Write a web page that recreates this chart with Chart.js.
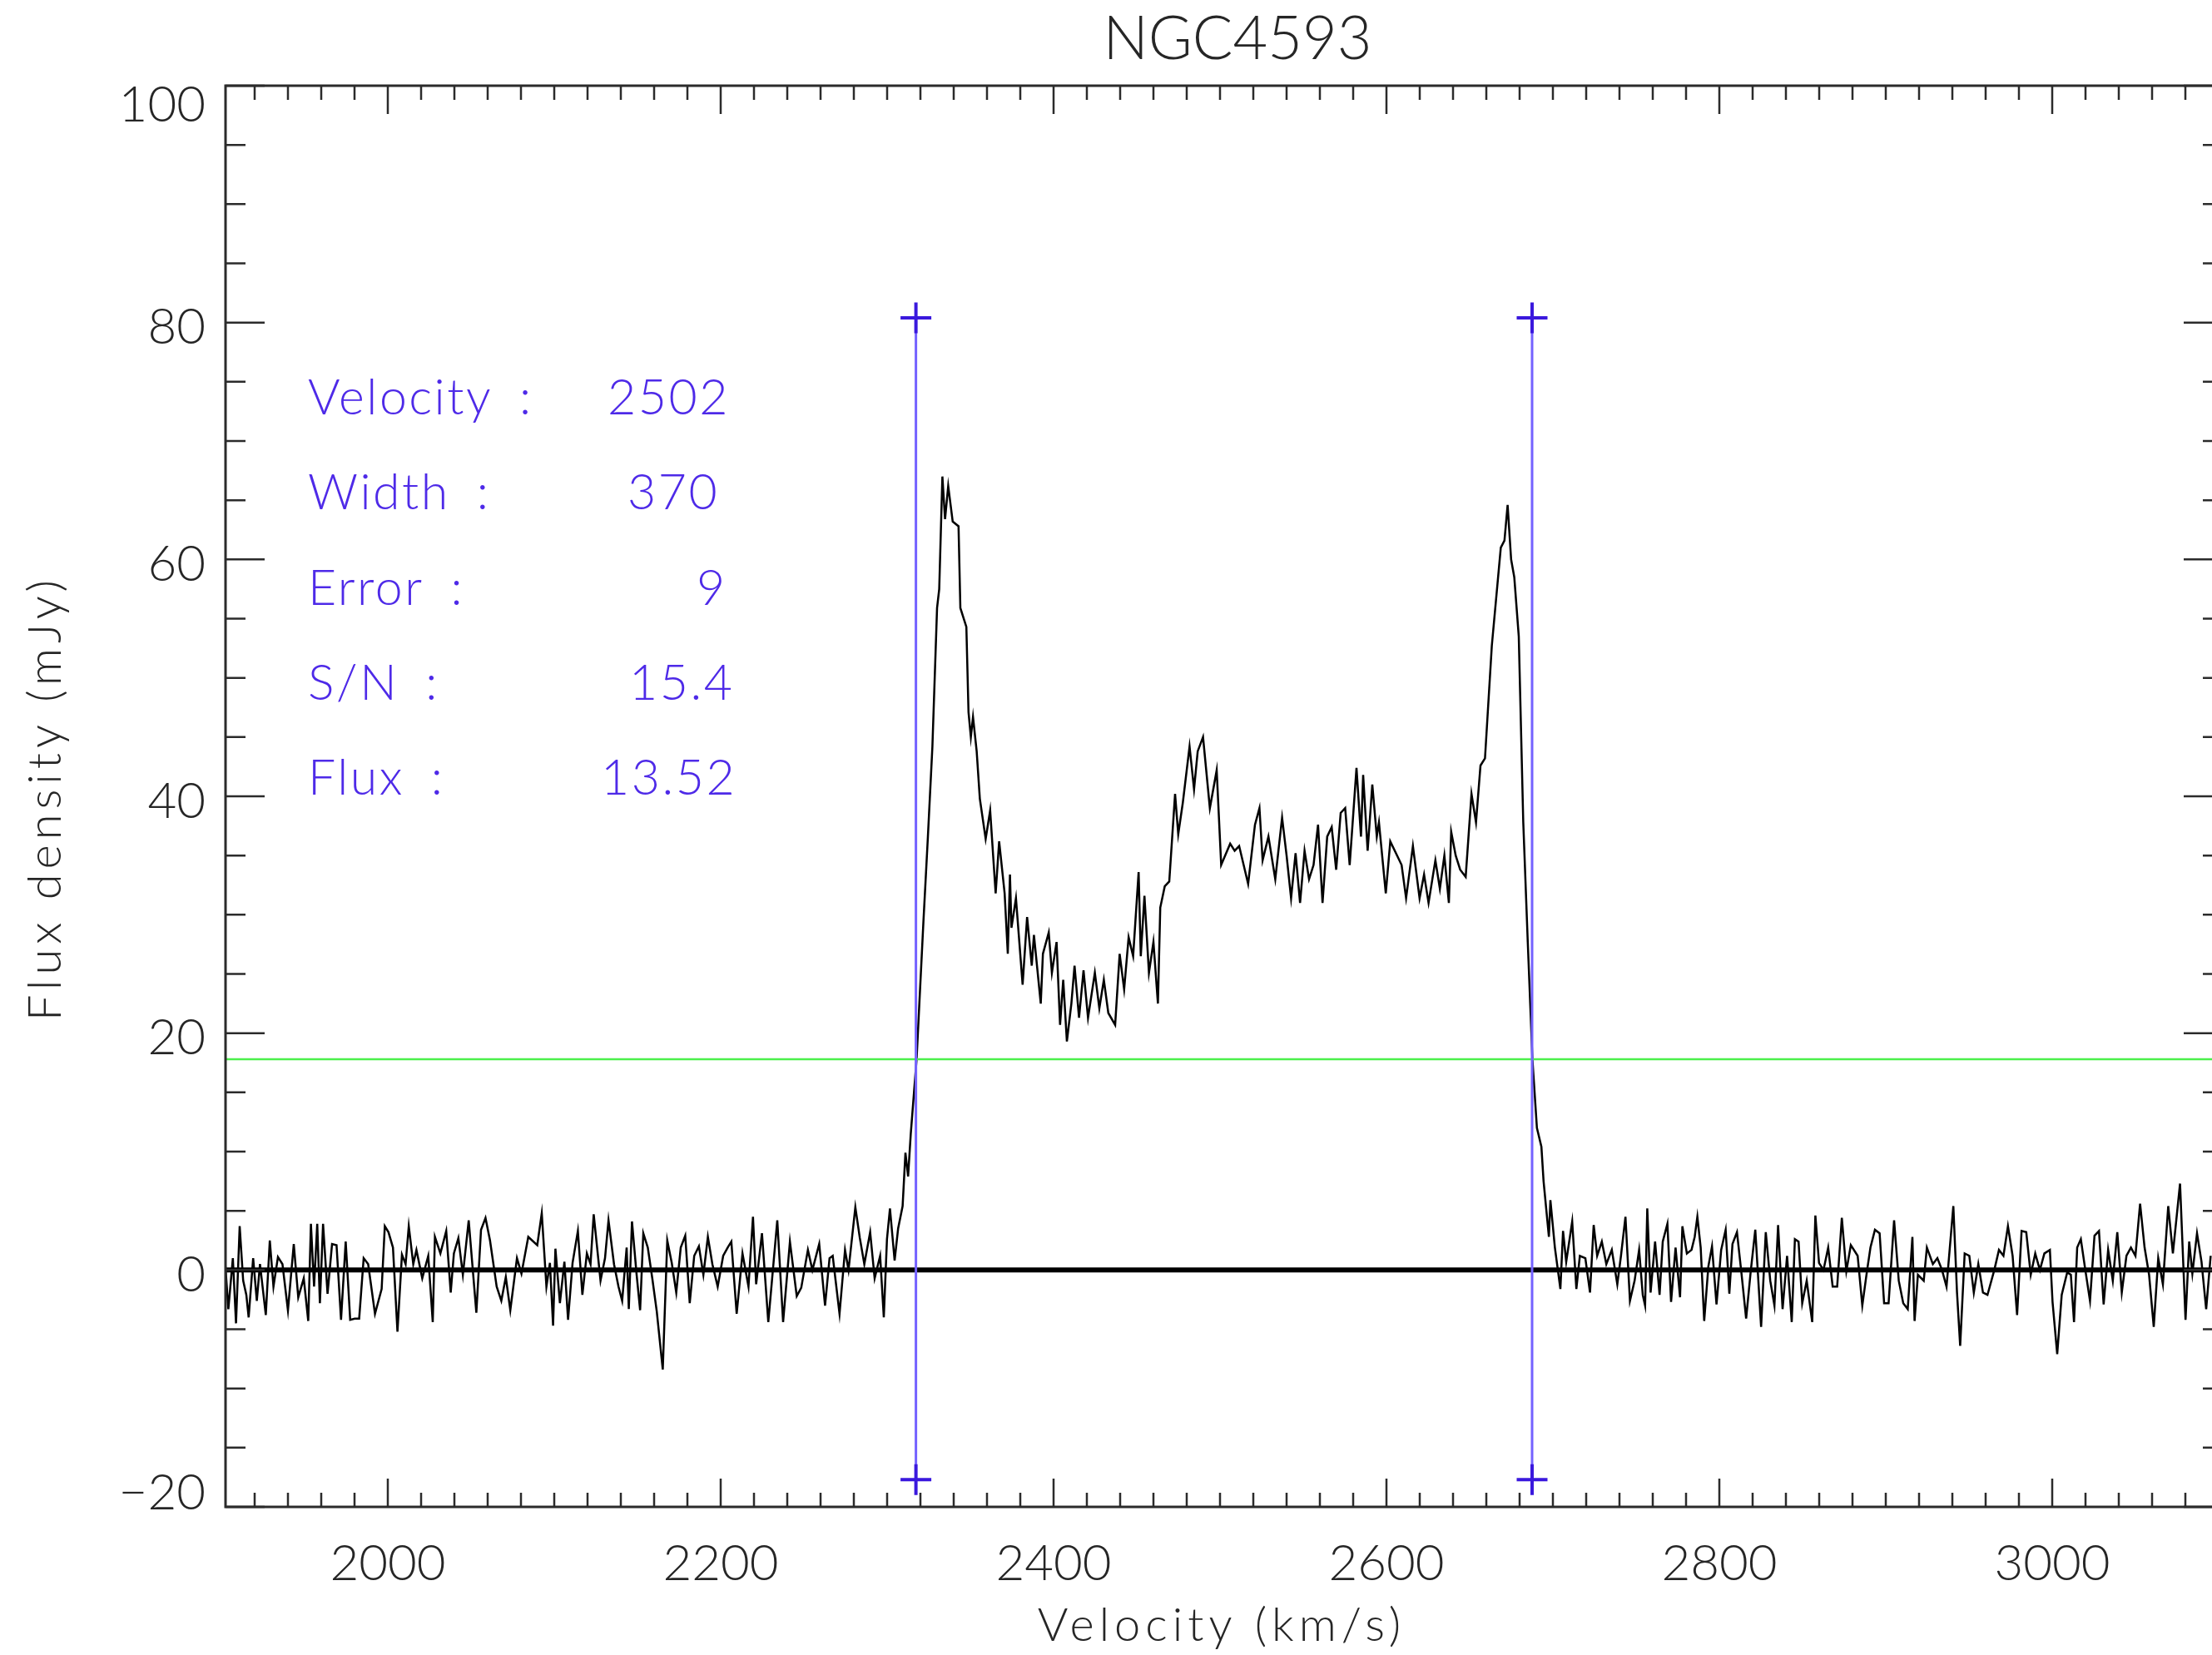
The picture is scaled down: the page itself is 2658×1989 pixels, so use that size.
<!DOCTYPE html>
<html>
<head>
<meta charset="utf-8">
<title>NGC4593</title>
<script src="https://cdn.jsdelivr.net/npm/chart.js@4.4.1/dist/chart.umd.min.js"></script>
<style>
  html, body { margin: 0; padding: 0; background: #fff; overflow: hidden; }
</style>
</head>
<body>
<canvas id="spectrum" width="2700" height="1989"></canvas>
<script>
// HI spectrum (km/s, mJy)
const velocity = [
  1902.0, 1904.2, 1906.9, 1908.8, 1911.0, 1913.1, 1915.0, 1916.4, 1919.1, 1921.3,
  1923.2, 1926.7, 1929.1, 1931.3, 1934.0, 1936.7, 1940.0, 1943.5, 1946.2, 1949.5,
  1952.2, 1953.8, 1955.7, 1957.6, 1959.2, 1961.1, 1963.8, 1966.5, 1969.2, 1971.9,
  1974.7, 1977.4, 1980.1, 1982.8, 1985.5, 1988.2, 1992.3, 1996.3, 1998.2, 2000.4,
  2003.1, 2005.8, 2008.5, 2010.7, 2012.6, 2015.3, 2017.2, 2020.7, 2024.3, 2027.0,
  2028.3, 2031.6, 2035.1, 2037.8, 2039.7, 2042.4, 2045.1, 2048.6, 2053.2, 2056.0,
  2058.7, 2061.4, 2065.4, 2068.2, 2070.9, 2073.6, 2077.6, 2080.3, 2084.4, 2089.8,
  2092.5, 2095.3, 2097.4, 2099.3, 2100.7, 2103.4, 2106.1, 2108.3, 2111.0, 2114.2,
  2116.9, 2119.6, 2121.8, 2123.7, 2127.8, 2130.5, 2132.6, 2135.9, 2138.6, 2140.8,
  2143.5, 2144.8, 2146.7, 2149.5, 2151.6, 2153.5, 2156.2, 2158.9, 2161.6, 2165.2,
  2167.9, 2170.6, 2173.3, 2176.0, 2178.7, 2181.4, 2184.1, 2186.9, 2189.6, 2192.3,
  2195.0, 2198.2, 2201.5, 2204.2, 2206.4, 2209.6, 2213.1, 2216.7, 2219.4, 2221.3,
  2224.8, 2228.6, 2230.8, 2234.0, 2237.5, 2241.6, 2245.7, 2248.4, 2252.4, 2255.1,
  2259.2, 2262.7, 2265.4, 2267.3, 2271.4, 2274.7, 2276.8, 2280.9, 2283.6, 2286.3,
  2289.8, 2292.5, 2295.8, 2298.0, 2299.9, 2301.7, 2304.5, 2306.6, 2309.3, 2311.0,
  2312.6, 2314.2, 2317.7, 2321.8, 2324.5, 2327.2, 2330.0, 2331.3, 2333.2, 2334.8,
  2336.7, 2339.4, 2342.9, 2344.0, 2347.6, 2348.9, 2350.3, 2351.6, 2353.8, 2355.7,
  2359.2, 2361.9, 2365.2, 2367.3, 2370.6, 2372.5, 2373.8, 2374.7, 2377.4, 2381.4,
  2384.1, 2386.9, 2388.2, 2392.3, 2393.6, 2397.1, 2399.0, 2401.8, 2403.9, 2405.8,
  2408.0, 2410.7, 2412.6, 2415.3, 2418.0, 2420.7, 2424.8, 2427.5, 2430.2, 2432.9,
  2437.0, 2439.7, 2442.4, 2445.1, 2447.8, 2451.1, 2452.4, 2454.6, 2457.3, 2460.0,
  2462.7, 2464.1, 2466.8, 2469.5, 2473.0, 2474.9, 2477.6, 2481.7, 2484.4, 2486.6,
  2489.8, 2493.9, 2498.0, 2500.7, 2506.1, 2508.8, 2511.5, 2514.2, 2516.9, 2521.0,
  2523.7, 2525.6, 2529.1, 2533.2, 2537.3, 2540.0, 2542.7, 2545.4, 2548.1, 2550.8,
  2553.5, 2556.2, 2558.9, 2561.6, 2564.4, 2567.1, 2569.8, 2572.5, 2575.2, 2577.9,
  2582.0, 2584.7, 2586.0, 2588.7, 2591.5, 2594.2, 2595.5, 2599.6, 2602.3, 2606.4,
  2609.1, 2611.8, 2615.9, 2619.9, 2622.6, 2625.3, 2629.4, 2632.1, 2634.8, 2637.5,
  2638.9, 2641.6, 2644.3, 2647.6, 2651.1, 2653.8, 2656.5, 2659.2, 2663.3, 2668.7,
  2670.9, 2672.8, 2674.9, 2676.8, 2679.5, 2682.2, 2684.9, 2687.7, 2690.4, 2693.1,
  2694.4, 2697.6, 2698.5, 2701.2, 2704.5, 2706.1, 2708.0, 2711.6, 2714.1, 2716.2,
  2719.5, 2722.3, 2724.5, 2726.6, 2729.4, 2732.1, 2735.4, 2738.7, 2740.9, 2743.6,
  2746.3, 2749.1, 2751.8, 2754.0, 2755.4, 2756.7, 2758.7, 2761.4, 2764.1, 2766.0,
  2768.8, 2771.0, 2773.7, 2776.4, 2777.8, 2780.5, 2783.3, 2785.2, 2786.8, 2788.8,
  2790.9, 2793.4, 2795.6, 2798.3, 2801.1, 2803.8, 2806.0, 2807.9, 2810.6, 2813.4,
  2816.1, 2818.8, 2821.6, 2825.1, 2827.9, 2830.6, 2833.1, 2835.3, 2838.0, 2840.7,
  2843.5, 2845.4, 2847.6, 2849.8, 2852.5, 2855.8, 2857.7, 2859.9, 2862.6, 2865.4,
  2868.1, 2870.8, 2873.6, 2876.3, 2879.0, 2883.1, 2885.9, 2888.6, 2890.8, 2893.5,
  2896.3, 2899.0, 2901.7, 2905.0, 2907.8, 2910.5, 2913.2, 2916.0, 2917.3, 2919.3,
  2922.8, 2924.7, 2928.3, 2931.0, 2933.8, 2936.5, 2940.6, 2942.8, 2944.7, 2947.4,
  2950.2, 2952.9, 2955.6, 2958.4, 2961.1, 2965.2, 2968.0, 2970.7, 2973.4, 2976.2,
  2978.9, 2981.6, 2984.4, 2987.1, 2989.8, 2992.6, 2995.3, 2998.6, 3000.2, 3003.0,
  3005.7, 3009.0, 3011.2, 3013.1, 3015.0, 3017.2, 3019.9, 3022.7, 3025.4, 3028.1,
  3030.9, 3033.6, 3036.4, 3039.1, 3041.8, 3044.6, 3047.3, 3050.0, 3052.8, 3055.5,
  3058.2, 3061.0, 3063.7, 3066.5, 3069.7, 3072.5, 3076.8, 3080.1, 3082.3, 3084.2,
  3087.0, 3089.7, 3092.5, 3095.2
];
const flux = [
  1.2, -3.3, 1.0, -4.5, 3.7, -0.9, -2.1, -4.0, 1.0, -2.6,
  0.5, -3.8, 2.5, -1.4, 1.1, 0.5, -3.4, 2.2, -2.3, -0.7,
  -4.3, 3.9, -1.4, 3.9, -2.8, 3.9, -2.0, 2.2, 2.1, -4.2,
  2.4, -4.2, -4.1, -4.1, 1.0, 0.5, -3.7, -1.6, 3.7, 3.2,
  1.9, -5.2, 1.3, 0.5, 3.7, 0.5, 1.7, -0.7, 1.2, -4.4,
  2.8, 1.4, 3.3, -1.9, 1.4, 2.7, -0.4, 4.2, -3.6, 3.4,
  4.4, 2.5, -1.4, -2.6, -0.6, -3.4, 1.0, -0.3, 2.8, 2.1,
  4.8, -1.4, 0.6, -4.7, 1.8, -2.8, 0.7, -4.2, 0.6, 3.3,
  -2.1, 1.4, 0.5, 4.7, -0.9, 1.0, 4.2, 0.5, -1.4, -2.6,
  1.9, -3.3, 4.1, -0.4, -3.4, 3.1, 1.9, -0.7, -3.5, -8.4,
  2.5, 0.6, -1.9, 1.9, 2.9, -2.8, 1.2, 2.0, -0.4, 2.8,
  0.5, -1.4, 1.2, 1.9, 2.4, -3.7, 1.4, -1.4, 4.5, -1.2,
  3.1, -4.4, -0.9, 4.2, -4.4, 2.4, -2.2, -1.5, 1.7, 0.0,
  2.2, -3.0, 1.0, 1.2, -3.7, 1.7, 0.0, 5.3, 2.7, 0.5,
  3.2, -0.7, 1.2, -4.0, 2.6, 5.2, 0.8, 3.5, 5.4, 9.9,
  7.9, 11.5, 17.8, 29.4, 36.6, 44.2, 55.9, 57.5, 67.0, 63.4,
  66.2, 63.2, 62.8, 55.9, 54.3, 47.1, 45.0, 46.7, 43.8, 39.8,
  36.4, 38.8, 31.8, 36.2, 31.8, 26.7, 33.4, 28.9, 31.4, 24.1,
  29.8, 25.7, 28.3, 22.5, 26.7, 28.5, 25.1, 27.7, 20.7, 24.5,
  19.3, 22.5, 25.7, 21.3, 25.3, 21.3, 25.1, 22.1, 24.5, 21.7,
  20.7, 26.7, 23.7, 28.1, 26.5, 33.6, 26.5, 31.6, 25.1, 27.7,
  22.5, 30.6, 32.4, 32.8, 40.2, 36.8, 39.4, 44.2, 40.6, 43.8,
  45.0, 39.0, 42.2, 34.2, 36.0, 35.4, 35.8, 34.2, 32.6, 37.6,
  39.0, 34.6, 36.6, 33.0, 38.2, 35.0, 31.4, 35.2, 31.0, 35.4,
  33.0, 34.2, 37.6, 31.0, 36.6, 37.4, 33.8, 38.6, 39.0, 34.2,
  42.4, 36.6, 41.8, 35.4, 41.0, 36.6, 37.8, 31.8, 36.2, 35.0,
  34.2, 31.4, 35.8, 31.4, 33.4, 31.0, 34.6, 32.2, 35.0, 31.0,
  37.0, 35.0, 33.8, 33.2, 40.2, 37.8, 42.6, 43.2, 52.7, 61.0,
  61.6, 64.6, 60.0, 58.5, 53.5, 37.8, 27.7, 17.8, 12.0, 10.4,
  7.5, 2.8, 5.9, 1.9, -1.6, 3.3, 0.7, 4.1, -1.6, 1.2,
  1.0, -1.9, 3.8, 1.2, 2.4, 0.5, 1.7, -1.2, 1.2, 4.5,
  -2.6, -0.9, 1.7, -2.1, -3.0, 5.2, -1.9, 2.4, -2.1, 2.4,
  3.9, -2.7, 1.9, -2.3, 3.7, 1.4, 1.7, 2.8, 4.5, 1.9,
  -4.3, 0.3, 2.0, -2.9, 1.7, 3.4, -2.0, 2.2, 3.2, -0.4,
  -4.1, -0.2, 3.4, -4.8, 3.2, -0.9, -3.0, 3.8, -3.3, 1.2,
  -4.4, 2.6, 2.4, -2.8, -0.9, -4.4, 4.6, 0.6, 0.0, 1.9,
  -1.4, -1.4, 4.4, -0.1, 2.1, 1.2, -3.0, -0.2, 1.9, 3.4,
  3.1, -2.8, -2.8, 4.2, -0.9, -2.8, -3.3, 2.8, -4.3, -0.4,
  -0.9, 1.9, 0.5, 1.0, 0.0, -1.4, 5.4, -1.9, -6.4, 1.4,
  1.2, -1.9, 0.5, -1.9, -2.1, 0.0, 1.7, 1.2, 3.7, 1.2,
  -3.8, 3.3, 3.2, -0.4, 1.4, 0.0, 1.4, 1.7, -2.7, -7.1,
  -2.1, -0.2, -0.4, -4.4, 1.9, 2.6, 0.0, -2.6, 2.9, 3.3,
  -2.9, 1.7, -0.9, 3.2, -1.9, 1.2, 1.9, 1.2, 5.6, 1.9,
  -0.4, -4.8, 1.0, -1.2, 5.4, 1.4, 7.3, -4.2, 2.4, -0.3,
  3.1, 0.7, -3.3, 1.2
];

// axis ranges and ticks
const velocityRange = [1902.5, 3102.5];
const fluxRange = [-20, 100];
const xMajorTicks = [2000, 2200, 2400, 2600, 2800, 3000];
const xTickLabels = ['2000', '2200', '2400', '2600', '2800', '3000'];
const yMajorTicks = [-20, 0, 20, 40, 60, 80, 100];
const yTickLabels = ['\u221220', '0', '20', '40', '60', '80', '100'];
const xMinorStep = 20;
const yMinorStep = 5;

// fit results
const zeroLevel = [0, 0];
const thresholdLevel = [17.8, 17.8];
const edgeVelocities = [2317.3, 2687.5];
const edgeMarkerFlux = [80.4, -17.7];
const statLabels = ['Velocity :', 'Width :', 'Error :', 'S/N :', 'Flux :'];
const statValues = ['2502', '370', '9', '15.4', '13.52'];

// where the text block sits, in data units
const statLabelVelocity = 1952;
const statValueVelocity = [2132, 2144, 2185.5, 2145, 2128];
const statRowFlux = [73.7, 65.7, 57.6, 49.6, 41.6];

const textColor = '#262626';
const statColor = 'rgb(78, 42, 232)';
const fontFamily = "Lato, 'Liberation Sans', sans-serif";

const spectrum = velocity.map((v, i) => ({ x: v, y: flux[i] }));
const edgeLine = v => edgeMarkerFlux.map(f => ({ x: v, y: f }));

// IDL style box: inward ticks on all four sides, labels on left and bottom
const idlFrame = {
    id: 'idlFrame',
    afterDraw(chart) {
        const { ctx, chartArea: a, scales: { x, y } } = chart;
        ctx.save();
        ctx.strokeStyle = '#2b2b2b';
        ctx.lineWidth = 3;
        ctx.strokeRect(a.left, a.top, a.right - a.left, a.bottom - a.top);

        ctx.lineWidth = 2.5;
        ctx.beginPath();
        for (let v = Math.ceil(x.min / xMinorStep) * xMinorStep; v <= x.max; v += xMinorStep) {
            const px = x.getPixelForValue(v);
            const len = xMajorTicks.includes(v) ? 34 : 17;
            ctx.moveTo(px, a.bottom); ctx.lineTo(px, a.bottom - len);
            ctx.moveTo(px, a.top); ctx.lineTo(px, a.top + len);
        }
        for (let v = fluxRange[0]; v <= fluxRange[1]; v += yMinorStep) {
            const py = y.getPixelForValue(v);
            const len = yMajorTicks.includes(v) ? 47 : 24;
            ctx.moveTo(a.left, py); ctx.lineTo(a.left + len, py);
            ctx.moveTo(a.right, py); ctx.lineTo(a.right - len, py);
        }
        ctx.stroke();

        ctx.fillStyle = textColor;
        ctx.textBaseline = 'alphabetic';
        ctx.font = `300 60px ${fontFamily}`;
        ctx.textAlign = 'center';
        xMajorTicks.forEach((v, i) => {
            ctx.fillText(xTickLabels[i], x.getPixelForValue(v), a.bottom + 88);
        });
        ctx.textAlign = 'right';
        yMajorTicks.forEach((v, i) => {
            let mid = y.getPixelForValue(v) + 4;
            mid = Math.min(Math.max(mid, a.top + 21), a.bottom - 19);
            ctx.fillText(yTickLabels[i], a.left - 24, mid + 21.5);
        });

        // titles
        ctx.textAlign = 'center';
        ctx.font = `300 72px ${fontFamily}`;
        ctx.fillText('NGC4593', (a.left + a.right) / 2 + 16, 71);

        ctx.font = `300 56px ${fontFamily}`;
        ctx.letterSpacing = '6px';
        ctx.fillText('Velocity (km/s)', (a.left + a.right) / 2 - 3, 1972);
        ctx.save();
        ctx.translate(73, (a.top + a.bottom) / 2 + 2);
        ctx.rotate(-Math.PI / 2);
        ctx.fillText('Flux density (mJy)', 0, 0);
        ctx.restore();

        // fit summary
        ctx.font = `300 59px ${fontFamily}`;
        ctx.letterSpacing = '2.5px';
        ctx.fillStyle = statColor;
        ctx.textAlign = 'left';
        statLabels.forEach((lab, i) => {
            const base = y.getPixelForValue(statRowFlux[i]) + 21;
            ctx.fillText(lab.replace(' :', '\u2002:'), x.getPixelForValue(statLabelVelocity), base);
            ctx.fillText(statValues[i], x.getPixelForValue(statValueVelocity[i]), base);
        });
        ctx.restore();
    }
};

const ctx = document.getElementById('spectrum').getContext('2d');
new Chart(ctx, {
    type: 'line',
    data: {
        datasets: [{
            data: spectrum,
            borderColor: '#000',
            borderWidth: 2.5,
            pointRadius: 0,
            tension: 0,
            order: 4
        }, {
            data: velocityRange.map((v, i) => ({ x: v, y: zeroLevel[i] })),
            borderColor: '#000',
            borderWidth: 6,
            pointRadius: 0,
            order: 3
        }, {
            data: velocityRange.map((v, i) => ({ x: v, y: thresholdLevel[i] })),
            borderColor: '#4cf04c',
            borderWidth: 2.5,
            pointRadius: 0,
            order: 2
        }, {
            data: edgeLine(edgeVelocities[0]),
            borderColor: '#7462ff',
            borderWidth: 3,
            pointStyle: 'cross',
            pointRadius: 18.5,
            pointBorderWidth: 4,
            pointBorderColor: '#3a18dd',
            order: 1
        }, {
            data: edgeLine(edgeVelocities[1]),
            borderColor: '#7462ff',
            borderWidth: 3,
            pointStyle: 'cross',
            pointRadius: 18.5,
            pointBorderWidth: 4,
            pointBorderColor: '#3a18dd',
            order: 1
        }]
    },
    options: {
        responsive: false,
        animation: false,
        layout: {
            padding: { top: 103, right: 29, left: 0, bottom: 0 }
        },
        plugins: {
            legend: { display: false },
            tooltip: { enabled: false },
            title: { display: false }
        },
        scales: {
            x: {
                type: 'linear',
                min: velocityRange[0],
                max: velocityRange[1],
                grid: { display: false },
                border: { display: false },
                ticks: { display: false },
                afterFit: s => { s.height = 178; }
            },
            y: {
                type: 'linear',
                min: fluxRange[0],
                max: fluxRange[1],
                grid: { display: false },
                border: { display: false },
                ticks: { display: false },
                afterFit: s => { s.width = 271; }
            }
        }
    },
    plugins: [idlFrame]
});
</script>
</body>
</html>
